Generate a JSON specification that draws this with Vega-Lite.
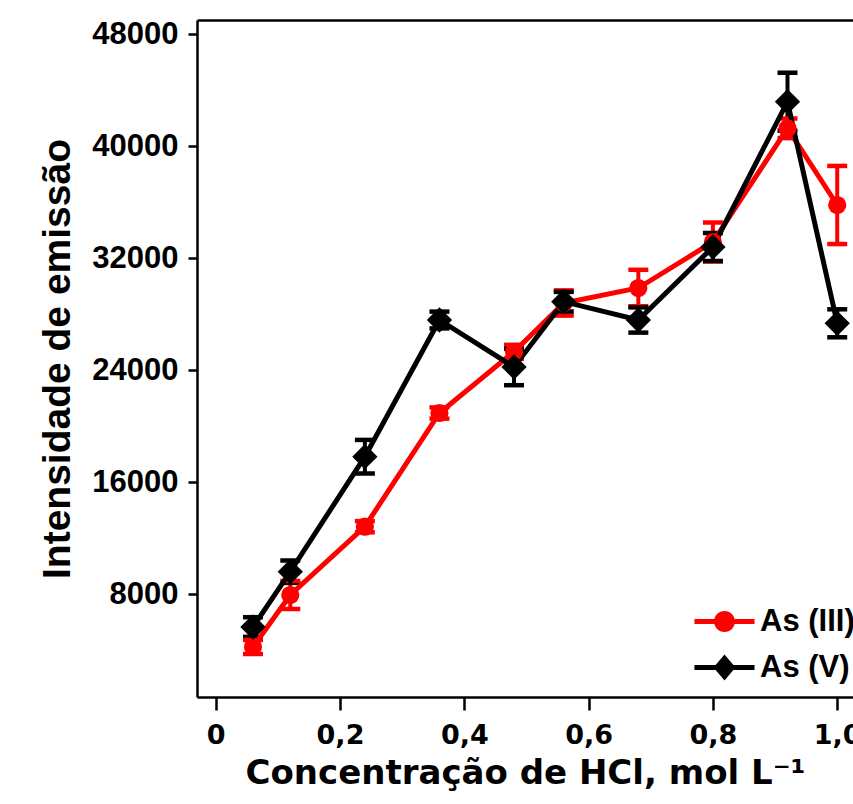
{
  "$schema": "https://vega.github.io/schema/vega-lite/v6.json",
  "autosize": {"type": "none"},
  "padding": {"left": 197, "top": 20, "right": 0, "bottom": 107},
  "width": 656,
  "height": 677,
  "background": "white",
  "data": {
    "values": [
      {"conc": 0.06, "series": "As (III)", "value": 4214, "lo": 3714, "hi": 4714},
      {"conc": 0.12, "series": "As (III)", "value": 7929, "lo": 6929, "hi": 8929},
      {"conc": 0.24, "series": "As (III)", "value": 12807, "lo": 12407, "hi": 13207},
      {"conc": 0.36, "series": "As (III)", "value": 20929, "lo": 20529, "hi": 21329},
      {"conc": 0.48, "series": "As (III)", "value": 25300, "lo": 24800, "hi": 25800},
      {"conc": 0.56, "series": "As (III)", "value": 28786, "lo": 27886, "hi": 29686},
      {"conc": 0.68, "series": "As (III)", "value": 29857, "lo": 28557, "hi": 31157},
      {"conc": 0.80, "series": "As (III)", "value": 33143, "lo": 31743, "hi": 34543},
      {"conc": 0.92, "series": "As (III)", "value": 41264, "lo": 40564, "hi": 41964},
      {"conc": 1.00, "series": "As (III)", "value": 35786, "lo": 32996, "hi": 38576},
      {"conc": 0.06, "series": "As (V)", "value": 5643, "lo": 4943, "hi": 6343},
      {"conc": 0.12, "series": "As (V)", "value": 9593, "lo": 8793, "hi": 10393},
      {"conc": 0.24, "series": "As (V)", "value": 17807, "lo": 16607, "hi": 19007},
      {"conc": 0.36, "series": "As (V)", "value": 27571, "lo": 26971, "hi": 28171},
      {"conc": 0.48, "series": "As (V)", "value": 24214, "lo": 22914, "hi": 25514},
      {"conc": 0.56, "series": "As (V)", "value": 28879, "lo": 28179, "hi": 29579},
      {"conc": 0.68, "series": "As (V)", "value": 27571, "lo": 26671, "hi": 28471},
      {"conc": 0.80, "series": "As (V)", "value": 32786, "lo": 31786, "hi": 33786},
      {"conc": 0.92, "series": "As (V)", "value": 43164, "lo": 41094, "hi": 45234},
      {"conc": 1.00, "series": "As (V)", "value": 27336, "lo": 26336, "hi": 28336}
    ]
  },
  "layer": [
    {
      "mark": {"type": "rule", "strokeWidth": 4, "opacity": 1},
      "encoding": {
        "x": {"field": "conc", "type": "quantitative", "scale": {"domain": [-0.0301, 1.0254], "nice": false, "zero": false}, "axis": null},
        "y": {"field": "lo", "type": "quantitative", "scale": {"domain": [643, 49000], "nice": false, "zero": false}, "title": "Intensidade de emissão",
              "axis": {"values": [8000, 16000, 24000, 32000, 40000, 48000], "format": "d"}},
        "y2": {"field": "hi"},
        "color": {"field": "series", "type": "nominal", "title": null,
                  "scale": {"domain": ["As (III)", "As (V)"], "range": ["#ff0000", "#000000"]},
                  "legend": {
                    "title": null, "orient": "none", "legendX": 512, "legendY": 586,
                    "padding": 0, "symbolSize": 484, "symbolStrokeWidth": 0, "symbolOpacity": 1,
                    "labelFont": "Liberation Sans", "labelFontWeight": "bold", "labelFontSize": 31,
                    "labelColor": "black", "labelOffset": 20, "rowPadding": 14, "labelLimit": 300,
                    "encode": {
                      "labels": {"update": {"fontSize": {"value": 31}, "fontWeight": {"value": "bold"}, "font": {"value": "Liberation Sans"}}},
                      "symbols": {"update": {
                      "shape": {"signal": "datum.value === 'As (III)' ? 'M-2.73,-0.23L-0.7,-0.23L-0.7,0.23L-2.73,0.23Z M0.7,-0.23L2.73,-0.23L2.73,0.23L0.7,0.23Z M0.95,0A0.95,0.95,0,1,1,-0.95,0A0.95,0.95,0,1,1,0.95,0Z' : 'M-2.73,-0.23L-0.7,-0.23L-0.7,0.23L-2.73,0.23Z M0.7,-0.23L2.73,-0.23L2.73,0.23L0.7,0.23Z M0,-1.18L1,0L0,1.18L-1,0Z'"},
                      "fill": {"signal": "datum.value === 'As (III)' ? '#ff0000' : '#000000'"},
                      "strokeWidth": {"value": 0},
                      "opacity": {"value": 1}
                    }}}
                  }}
      }
    },
    {
      "mark": {"type": "tick", "orient": "horizontal", "size": 20, "thickness": 4.5, "opacity": 1},
      "encoding": {
        "x": {"field": "conc", "type": "quantitative", "axis": null},
        "y": {"field": "lo", "type": "quantitative", "title": "Intensidade de emissão",
              "axis": {"values": [8000, 16000, 24000, 32000, 40000, 48000], "format": "d"}},
        "color": {"field": "series", "type": "nominal", "title": null}
      }
    },
    {
      "mark": {"type": "tick", "orient": "horizontal", "size": 20, "thickness": 4.5, "opacity": 1},
      "encoding": {
        "x": {"field": "conc", "type": "quantitative", "axis": null},
        "y": {"field": "hi", "type": "quantitative", "title": "Intensidade de emissão",
              "axis": {"values": [8000, 16000, 24000, 32000, 40000, 48000], "format": "d"}},
        "color": {"field": "series", "type": "nominal", "title": null}
      }
    },
    {
      "mark": {"type": "line", "strokeWidth": 5},
      "encoding": {
        "x": {"field": "conc", "type": "quantitative", "title": "Concentração de HCl, mol L⁻¹",
              "axis": {"values": [0, 0.2, 0.4, 0.6, 0.8, 1.0], "labelExpr": "datum.value == 0 ? '0' : replace(format(datum.value, '.1f'), '.', ',')"}},
        "y": {"field": "value", "type": "quantitative", "title": "Intensidade de emissão",
              "axis": {"values": [8000, 16000, 24000, 32000, 40000, 48000], "format": "d"}},
        "color": {"field": "series", "type": "nominal", "title": null}
      }
    },
    {
      "transform": [{"filter": "datum.series === 'As (III)'"}],
      "mark": {"type": "point", "filled": true, "opacity": 1, "strokeWidth": 0, "shape": "circle", "size": 330},
      "encoding": {
        "x": {"field": "conc", "type": "quantitative", "axis": null},
        "y": {"field": "value", "type": "quantitative", "title": "Intensidade de emissão",
              "axis": {"values": [8000, 16000, 24000, 32000, 40000, 48000], "format": "d"}},
        "color": {"field": "series", "type": "nominal", "title": null}
      }
    },
    {
      "transform": [{"filter": "datum.series === 'As (V)'"}],
      "mark": {"type": "point", "filled": true, "opacity": 1, "strokeWidth": 0, "shape": "diamond", "size": 640},
      "encoding": {
        "x": {"field": "conc", "type": "quantitative",
              "axis": {"orient": "top", "labels": false, "ticks": false, "title": null, "domain": true}},
        "y": {"field": "value", "type": "quantitative", "title": "Intensidade de emissão",
              "axis": {"values": [8000, 16000, 24000, 32000, 40000, 48000], "format": "d"}},
        "color": {"field": "series", "type": "nominal", "title": null}
      }
    }
  ],
  "resolve": {"axis": {"x": "independent"}},
  "config": {
    "view": {"stroke": null},
    "axis": {"grid": false, "domainColor": "black", "domainWidth": 2.5, "tickColor": "black", "tickWidth": 2.5, "labelColor": "black", "titleColor": "black"},
    "axisY": {"tickSize": 9, "labelPadding": 10,
              "labelFont": "Liberation Sans", "labelFontWeight": "bold", "labelFontSize": 31,
              "titleFont": "Liberation Sans", "titleFontWeight": "bold", "titleFontSize": 39, "titlePadding": 14},
    "axisX": {"tickSize": 13, "labelPadding": 12, "labelFont": "DejaVu Sans", "labelFontWeight": "bold", "labelFontSize": 27,
              "titleFont": "DejaVu Sans", "titleFontWeight": "bold", "titleFontSize": 34, "titlePadding": 8, "labelFlush": false}
  }
}
